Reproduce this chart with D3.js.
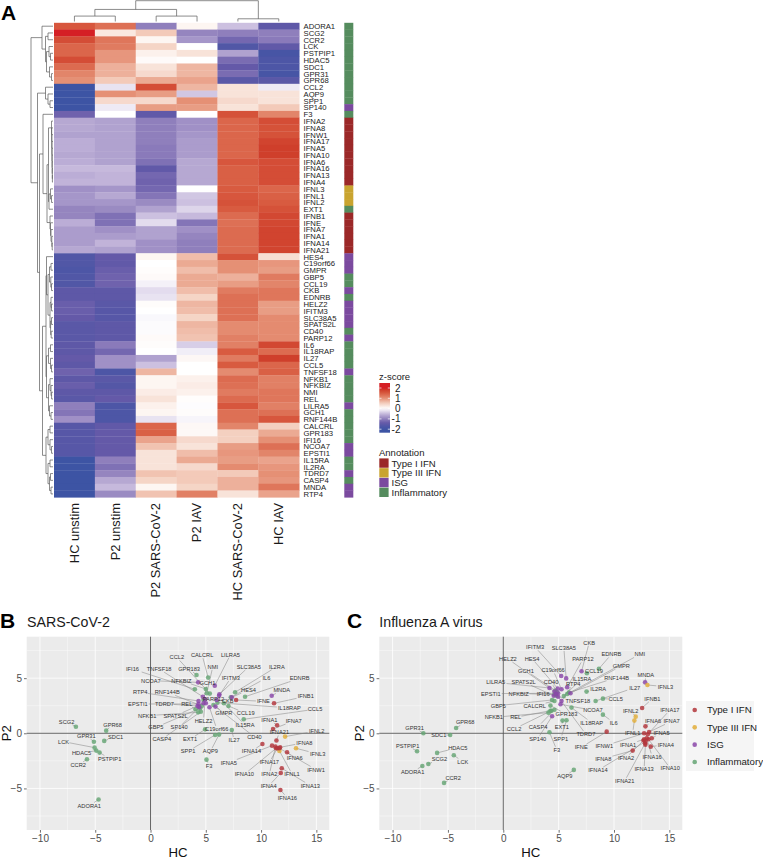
<!DOCTYPE html>
<html><head><meta charset="utf-8">
<script src="https://cdn.jsdelivr.net/npm/d3@7"></script>
<style>html,body{margin:0;padding:0;background:#fff;overflow:hidden}svg{display:block}text{font-family:"Liberation Sans",Arial,sans-serif}</style>
</head><body><div id="c"></div>
<script>
const genes=["ADORA1","SCG2","CCR2","LCK","PSTPIP1","HDAC5","SDC1","GPR31","GPR68","CCL2","AQP9","SPP1","SP140","F3","IFNA2","IFNA8","IFNW1","IFNA17","IFNA5","IFNA10","IFNA6","IFNA16","IFNA13","IFNA4","IFNL3","IFNL1","IFNL2","EXT1","IFNB1","IFNE","IFNA7","IFNA1","IFNA14","IFNA21","HES4","C19orf66","GMPR","GBP5","CCL19","CKB","EDNRB","HELZ2","IFITM3","SLC38A5","SPATS2L","CD40","PARP12","IL6","IL18RAP","IL27","CCL5","TNFSF18","NFKB1","NFKBIZ","NMI","REL","LILRA5","GCH1","RNF144B","CALCRL","GPR183","IFI16","NCOA7","EPSTI1","IL15RA","IL2RA","TDRD7","CASP4","MNDA","RTP4"];
const conditions=["HC unstim","P2 unstim","P2 SARS-CoV-2","P2 IAV","HC SARS-CoV-2","HC IAV"];
const annotationNames=["Type I IFN","Type III IFN","ISG","Inflammatory"];
// annotation index per gene: 0 Type I, 1 Type III, 2 ISG, 3 Inflammatory
const geneAnnotation=[3,3,3,3,3,3,3,3,3,3,3,3,2,3,0,0,0,0,0,0,0,0,0,0,1,1,1,3,0,0,0,0,0,0,2,2,2,3,3,2,3,2,2,2,2,3,2,3,3,3,3,2,3,3,3,3,2,3,3,3,3,3,2,2,3,3,2,3,2,2];
const zScores=[
[1.55,1.3,-1.0,0.1,-0.45,-1.5],[2.0,0.25,0.55,-0.95,-1.0,-1.0],[1.65,1.25,0.1,-0.8,-1.25,-1.05],[1.4,1.2,0.45,0,-1.7,-1.45],[1.4,0.95,0.15,0.3,-0.7,-1.85],[1.65,0.95,0.05,0,-1.2,-1.75],[1.35,0.75,0.3,0.7,-1.4,-1.75],[1.1,0.75,0.4,0.7,-1.2,-1.85],[1.0,0.55,0.8,0.85,-1.55,-1.55],[-2,-0.2,1.65,0.7,0.3,-0.15],[-2,1.0,0.9,-0.4,0.3,0.3],[-2,0.4,0.4,1.0,0.4,0.3],[-2,-0.15,0.9,0.9,0.3,0.55],[-1.3,0,-1.45,0,1.6,1.1],
[-0.65,-0.7,-1.0,-0.85,1.4,1.65],[-0.65,-0.7,-1,-0.85,1.4,1.6],[-0.7,-0.7,-1,-0.8,1.4,1.6],[-0.6,-0.7,-1,-0.75,1.4,1.75],[-.6,-.7,-1.05,-.75,1.4,1.8],[-.65,-.7,-1.05,-.75,1.4,1.8],[-.6,-.7,-1.15,-.65,1.55,1.65],[-.5,-.5,-1.45,-.65,1.45,1.65],[-.6,-.55,-1.25,-.65,1.45,1.65],[-.55,-.55,-1.3,-.65,1.45,1.65],[-.85,-.8,-1.25,0,1.5,1.4],[-.8,-.65,-1.1,-.4,1.55,1.45],[-.8,-.8,-.9,-.45,1.6,1.5],[-.95,-.9,-.7,-.3,1.5,1.6],[-.95,-1.15,-.45,-.5,1.35,1.7],[-.6,-1.15,-.25,-1.1,1.3,1.7],[-.75,-.85,-.7,-.85,1.35,1.75],[-.75,-.75,-.7,-.95,1.35,1.75],[-.75,-.55,-.85,-1.0,1.35,1.75],[-.65,-.7,-.85,-1.0,1.35,1.75],
[-1.7,-1.4,.1,.65,1.6,.35],[-1.7,-1.45,0,.8,1.0,.95],[-1.75,-1.35,.02,.65,1.0,.9],[-1.7,-1.3,.05,.8,.75,1.2],[-1.7,-1.3,-.1,.8,.9,1.1],[-1.5,-1.5,-.25,.65,1.2,1.25],[-1.5,-1.5,-.2,.45,1.3,1.25],[-1.35,-1.55,.03,.7,1.3,.9],[-1.35,-1.6,0,.65,1.3,.9],[-1.4,-1.6,-.05,.45,1.3,1.05],[-1.55,-1.5,-.03,.7,1.05,1.05],[-1.55,-1.5,-.03,.65,1.05,1.05],[-1.55,-1.5,.05,.6,1.15,1.05],[-1.5,-1.05,.03,-.35,1.15,1.7],[-1.5,-1.25,0,-.12,1.5,1.35],[-1.4,-.85,-.7,.08,1.2,1.8],[-1.5,-.85,-.45,0,1.5,1.4],[-1.3,-1.75,.7,0,1.05,1.45],[-1.5,-1.55,.1,.15,1.35,1.15],[-1.35,-1.65,.1,.2,1.3,1.15],[-1.5,-1.5,.2,.15,1.2,1.25],[-1.55,-1.4,.3,.02,1.35,1.25],[-1.0,-1.75,.15,-.02,1.55,1.15],[-1.1,-1.75,.1,.03,1.3,1.3],[-.85,-1.75,-.2,-.07,1.3,1.55],[-1.6,-1.45,1.4,.07,1.1,.5],[-1.6,-1.4,1.45,.07,.5,.8],[-1.6,-1.4,.85,.4,.5,1.0],[-1.6,-1.4,.6,.3,.9,1.3],[-1.6,-1.4,.3,.65,.95,1.1],[-2,-1.0,.3,.8,.9,.85],[-2,-1.15,.3,.4,1.05,.95],[-2,-.95,.6,.55,.55,1.0],[-2,-.65,.45,.55,.75,.95],[-2,-.5,.1,.45,.75,1.25],[-2,-.9,.6,1.15,.3,.85]];
// dendrograms: [height, childA, childB]; a number is a leaf index
const colTree=[1,[.58,[.26,0,1],[.26,2,3]],[.13,4,5]];
const typeOneA=[1.5,14,[1.3,15,[1.2,16,[1.1,17,[1,18,[.9,19,[.8,20,[.7,21,[.6,22,23]]]]]]]]];
const typeOneB=[3,28,[2.5,29,[2,30,[1.2,31,[.8,32,33]]]]];
const lateA=[6.5,34,[5,[3.5,[2,35,36],[2.2,37,[1.5,38,39]]],[3,[2,40,[1.5,41,42]],[2.4,[1.5,43,44],[1.8,45,46]]]]];
const lateB=[6.5,[4.5,[2.5,47,48],[2.5,49,[1.5,50,51]]],[4.5,[3,52,[2,53,[1.4,54,55]]],[3.5,56,[2,57,58]]]];
const lateC=[7,[5,[3,59,60],[3,61,[1.5,62,63]]],[5,[3,64,65],[3.5,[2.5,66,67],[2,68,69]]]];
const rowTree=[22,[11,0,[7.5,[5,1,2],[6.5,[4,3,[2.5,4,5]],[3.5,6,[1.5,7,8]]]]],[15.5,[7.5,9,[5,10,[3,11,12]]],[13.5,[10,13,[6,[4.5,typeOneA,[4,[2.5,24,[1.5,25,26]],27]],typeOneB]],[10.5,[7,lateA,lateB],lateC]]]];
const legendZ=[2,1,0,-1,-2];
const axisTicksX=[-10,-5,0,5,10,15];
const axisTicksY=[-5,0,5];
// panel B: SARS-CoV-2 (gene order)
const sarsHC=[-4.70,-6.75,-5.75,-5.06,-4.61,-4.91,-4.19,-5.12,-4.01,5.36,6.20,5.84,4.40,5.06,11.30,11.72,11.66,11.48,10.99,11.36,12.35,11.75,11.87,11.78,13.16,11.66,12.17,4.94,11.17,7.74,11.08,11.45,10.12,11.39,7.35,5.33,5.87,4.49,7.05,5.99,8.55,4.94,6.20,6.23,4.79,5.69,5.00,7.26,6.05,7.35,8.43,4.73,4.31,5.00,5.09,4.07,5.81,4.79,4.64,5.21,4.16,4.01,4.31,4.34,6.63,7.65,4.25,4.55,10.96,4.34];
const sarsP2=[-6.01,.60,-2.36,-1.30,-1.75,-1.57,-.69,-.76,.24,3.60,-.12,-.15,2.36,-2.39,-1.21,-1.27,-1.36,-1.36,-1.12,-1.36,-1.72,-5.14,-3.17,-3.60,-1.36,-1.60,-.30,.36,2.72,3.02,.39,.73,-.97,-.66,3.26,2.36,2.42,2.27,2.48,3.02,3.32,3.08,3.41,3.53,2.72,2.57,2.72,3.26,2.78,.30,1.27,3.32,1.90,4.02,3.63,2.18,4.32,3.02,2.48,5.05,5.29,3.99,4.62,2.66,2.72,3.72,2.48,1.96,3.41,2.93];
const sarsLabelHC=[-5.54,-7.59,-6.54,-7.86,-3.70,-6.23,-3.16,-5.81,-3.43,2.38,5.42,3.40,2.59,5.30,10.75,13.92,14.97,10.75,7.08,8.49,13.04,12.38,14.46,10.69,15.12,12.80,15.03,3.58,14.04,10.21,12.95,10.75,9.13,11.66,8.86,5.99,6.63,.48,8.61,6.99,13.49,4.79,7.26,8.89,2.26,9.40,5.69,10.48,12.56,7.56,14.88,.78,-.30,2.80,5.63,3.28,7.23,5.15,1.51,4.67,3.49,-1.63,.03,-1.14,8.55,11.42,1.27,1.02,11.87,-.93];
const sarsLabelP2=[-6.56,1.06,-2.87,-.76,-2.30,-1.81,-.30,-.24,.79,6.89,-1.63,-1.63,.54,-2.93,-3.72,-.85,-3.29,-2.63,-2.66,-3.72,-2.24,-5.86,-4.74,-4.77,-1.87,-3.69,.21,-.54,3.35,2.90,1.12,1.21,-1.63,.09,3.93,.39,1.87,.54,1.81,2.96,4.98,1.15,5.02,6.04,1.60,-.33,3.11,5.02,2.30,-.63,2.18,5.83,1.60,4.77,6.04,2.66,7.13,4.53,3.72,7.10,5.83,5.83,4.77,2.66,.76,6.04,2.66,-.54,3.90,3.72];
// panel C: Influenza A virus (gene order)
const iavHC=[-7.31,-6.77,-5.35,-4.47,-7.79,-5.98,-4.80,-7.22,-4.26,4.35,6.37,5.71,4.41,4.17,12.66,11.69,12.72,13.05,13.41,13.11,12.84,12.96,12.84,13.32,13.02,11.84,11.96,5.35,12.54,9.34,13.17,12.72,12.84,12.81,4.92,5.26,6.07,4.41,7.55,7.07,8.64,4.62,5.23,5.68,4.56,4.86,5.77,9.0,6.16,8.34,9.0,4.95,4.08,4.62,5.77,4.26,4.17,4.71,5.92,4.62,4.26,4.80,5.17,4.95,5.47,7.52,4.77,4.62,12.81,5.26];
const iavP2=[-2.96,-2.78,-4.50,-1.99,-1.63,-1.78,-.15,0,.48,2.05,-3.32,1.18,1.54,.09,-.66,-1.57,0,-.09,-.45,-.54,.63,-.45,-1.03,-1.21,4.38,1.15,1.51,1.15,2.30,.15,.12,-.54,-.76,-.91,4.05,3.99,3.63,3.02,5.44,5.62,5.86,3.78,5.20,4.98,3.41,3.72,4.17,1.69,2.33,2.93,3.14,3.32,1.87,3.53,3.56,2.05,4.11,3.87,3.69,2.93,2.51,3.41,2.63,3.63,3.38,3.78,3.56,2.14,4.62,2.93];
const iavLabelHC=[-8.19,-5.77,-4.53,-3.66,-8.64,-4.11,-5.83,-8.01,-3.44,.97,5.56,5.20,3.11,4.83,11.09,9.03,9.12,15.05,14.29,15.08,13.53,13.44,12.72,14.68,14.65,11.69,11.51,5.29,13.47,7.04,15.2,11.27,8.55,10.97,2.60,4.50,10.66,-.45,8.19,7.76,9.76,.42,2.87,5.47,1.84,4.32,7.19,9.97,7.98,11.87,10.15,6.74,-.85,1.39,12.33,1.12,-.69,2.05,10.24,2.84,5.71,3.60,8.10,-1.12,7.10,8.58,7.46,3.14,12.87,6.31];
const iavLabelP2=[-3.50,-2.36,-4.02,-2.57,-1.12,-1.30,-.18,.51,1.0,.39,-3.90,-.48,-.48,-1.51,-2.21,-2.30,-1.15,2.11,.03,-3.17,1.09,-2.11,-3.26,-1.03,4.23,.03,2.05,.60,3.14,-1.27,1.09,-1.03,-3.35,-4.32,6.77,5.71,6.10,2.51,5.68,8.22,7.16,6.74,7.82,7.76,4.65,4.65,6.71,.97,.97,4.14,3.08,2.96,1.45,3.60,7.16,1.45,4.62,5.68,5.05,2.51,1.72,3.56,2.08,3.60,4.95,3.99,-.09,.60,5.26,4.47];

const W=763,H=860;
const svg=d3.select("#c").append("svg").attr("width",W).attr("height",H).attr("viewBox",[0,0,W,H]);
const annotColors=["#9b2828","#c9a42f","#7b4a9f","#558c5e"];
const pointColors=["#b2353a","#e2ad38","#8a47a8","#65a574"];

// --- Heatmap ---
const x=d3.scaleBand().domain(d3.range(conditions.length)).range([54,299.2]);
const y=d3.scaleBand().domain(d3.range(genes.length)).range([22.8,497.3]);
const color=d3.scaleLinear().domain([-2,-1.4,-1,-.5,0,.5,1,1.5,1.8,2]).range(["#3d54a4","#6459a8","#8f7fbc","#c6b9dc","#ffffff","#f4d0c0","#e59075","#d85b40","#cf3f2b","#d51f25"]).clamp(true);
const hm=svg.append("g");
zScores.forEach((row,r)=>row.forEach((v,c)=>{
  hm.append("rect").attr("x",x(c)).attr("y",y(r)).attr("width",x.bandwidth()+.3).attr("height",y.bandwidth()+.3).attr("fill",color(v));
}));
const labelsG=svg.append("g").attr("font-size",7.7).attr("fill","#222");
genes.forEach((g,r)=>labelsG.append("text").attr("x",303.5).attr("y",y(r)+y.bandwidth()/2+2.9).text(g));
conditions.forEach((c,i)=>{
  svg.append("text").attr("transform",`translate(${x(i)+x.bandwidth()/2+4.2},503) rotate(-90)`).attr("text-anchor","end").attr("font-size",12.9).attr("fill","#1a1a1a").text(c);
});
genes.forEach((g,r)=>svg.append("rect").attr("x",344.3).attr("width",9).attr("y",y(r)).attr("height",y.bandwidth()+.3).attr("fill",annotColors[geneAnnotation[r]]));

// dendrograms
function dendro(node,leafPos,hPos,seg){
  if(typeof node==="number") return {p:leafPos(node),h:hPos(0)};
  const a=dendro(node[1],leafPos,hPos,seg), b=dendro(node[2],leafPos,hPos,seg), h=hPos(node[0]);
  seg.push([a.p,a.h,a.p,h],[b.p,b.h,b.p,h],[a.p,h,b.p,h]);
  return {p:(a.p+b.p)/2,h};
}
const colSeg=[];
const colH=d3.scaleLinear().domain([0,1]).range([21.5,.7]);
dendro(colTree,i=>x(i)+x.bandwidth()/2,colH,colSeg);
svg.append("g").attr("stroke","#5a5a5a").attr("stroke-width",.7).attr("fill","none").selectAll("line").data(colSeg).join("line")
  .attr("x1",d=>d[0]).attr("y1",d=>d[1]).attr("x2",d=>d[2]).attr("y2",d=>d[3]);
const rowSeg=[];
const rowH=d3.scaleLinear().domain([0,22]).range([53,31]);
dendro(rowTree,i=>y(i)+y.bandwidth()/2,rowH,rowSeg);
svg.append("g").attr("stroke","#5a5a5a").attr("stroke-width",.7).attr("fill","none").selectAll("line").data(rowSeg).join("line")
  .attr("x1",d=>d[1]).attr("y1",d=>d[0]).attr("x2",d=>d[3]).attr("y2",d=>d[2]);

// --- Heatmap legends ---
svg.append("text").attr("x",379).attr("y",379.5).attr("font-size",9.5).attr("fill","#222").text("z-score");
const legY=d3.scaleLinear().domain([2,-2]).range([388,429.2]);
const grad=svg.append("defs").append("linearGradient").attr("id","zg").attr("x1",0).attr("x2",0).attr("y1",0).attr("y2",1);
d3.range(0,1.001,.05).forEach(t=>{const v=legY.invert(383+t*49.7);grad.append("stop").attr("offset",t).attr("stop-color",color(v));});
svg.append("rect").attr("x",379.3).attr("y",383).attr("width",10.7).attr("height",49.7).attr("fill","url(#zg)");
legendZ.forEach(v=>{
  const yy=legY(v);
  svg.append("line").attr("x1",379.3).attr("x2",381.5).attr("y1",yy).attr("y2",yy).attr("stroke","#fff").attr("stroke-width",.7);
  svg.append("line").attr("x1",387.8).attr("x2",390).attr("y1",yy).attr("y2",yy).attr("stroke","#fff").attr("stroke-width",.7);
  svg.append("text").attr("x",400.5).attr("y",yy+3.5).attr("text-anchor","end").attr("font-size",10).attr("fill","#222").text(v);
});
svg.append("text").attr("x",379).attr("y",455.5).attr("font-size",9.5).attr("fill","#222").text("Annotation");
const swY=d3.scaleBand().domain(d3.range(4)).range([458.4,497.4]);
annotationNames.forEach((n,i)=>{
  svg.append("rect").attr("x",379.3).attr("y",swY(i)).attr("width",9.3).attr("height",swY.bandwidth()-.4).attr("fill",annotColors[i]);
  svg.append("text").attr("x",391.5).attr("y",swY(i)+8.2).attr("font-size",9.6).attr("fill","#222").text(n);
});

// --- Panels ---
function panel(opts){
  const g=svg.append("g");
  const sx=d3.scaleLinear().domain([-11.2,16.17]).range([opts.left,opts.right]);
  const sy=d3.scaleLinear().domain([-8.77,8.76]).range([830,636.7]);
  g.append("rect").attr("x",opts.left).attr("y",636.7).attr("width",opts.right-opts.left).attr("height",193.3).attr("fill","#EBEBEB");
  [-7.5,-2.5,2.5,7.5,12.5].forEach(v=>g.append("line").attr("x1",sx(v)).attr("x2",sx(v)).attr("y1",636.7).attr("y2",830).attr("stroke","#fff").attr("stroke-width",.4));
  [-7.5,-2.5,2.5,7.5].forEach(v=>g.append("line").attr("y1",sy(v)).attr("y2",sy(v)).attr("x1",opts.left).attr("x2",opts.right).attr("stroke","#fff").attr("stroke-width",.4));
  axisTicksX.forEach(v=>g.append("line").attr("x1",sx(v)).attr("x2",sx(v)).attr("y1",636.7).attr("y2",830).attr("stroke","#fff").attr("stroke-width",.8));
  axisTicksY.forEach(v=>g.append("line").attr("y1",sy(v)).attr("y2",sy(v)).attr("x1",opts.left).attr("x2",opts.right).attr("stroke","#fff").attr("stroke-width",.8));
  const ax=g.append("g").attr("transform","translate(0,830)").call(d3.axisBottom(sx).tickValues(axisTicksX).tickSize(2.7).tickPadding(2.5).tickFormat(d3.format("d")));
  const ay=g.append("g").attr("transform",`translate(${opts.left},0)`).call(d3.axisLeft(sy).tickValues(axisTicksY).tickSize(2.7).tickPadding(2).tickFormat(d3.format("d")));
  [ax,ay].forEach(a=>{a.select(".domain").remove();a.selectAll("line").attr("stroke","#333").attr("stroke-width",.7);a.selectAll("text").attr("fill","#4D4D4D").attr("font-size",10).attr("font-family","Liberation Sans");});
  g.append("line").attr("x1",sx(0)).attr("x2",sx(0)).attr("y1",636.7).attr("y2",830).attr("stroke","#555").attr("stroke-width",.9);
  g.append("line").attr("y1",sy(0)).attr("y2",sy(0)).attr("x1",opts.left).attr("x2",opts.right).attr("stroke","#555").attr("stroke-width",.9);
  const d=genes.map((name,i)=>({name,t:geneAnnotation[i],hc:opts.hc[i],p2:opts.p2[i],lx:opts.lx[i],ly:opts.ly[i]}));
  const fs=5.7, cw=fs*.6;
  d.forEach(p=>{
    const x0=sx(p.hc),y0=sy(p.p2),x1=sx(p.lx),y1=sy(p.ly);
    const hw=p.name.length*cw/2+.6,hh=fs/2+.3,dx=x0-x1,dy=y0-y1;
    const s=Math.min(dx?hw/Math.abs(dx):1e9,dy?hh/Math.abs(dy):1e9);
    if(s<1) g.append("line").attr("x1",x0).attr("y1",y0).attr("x2",x1+dx*s).attr("y2",y1+dy*s).attr("stroke","#808080").attr("stroke-width",.5);
  });
  g.selectAll("circle.pt").data([...d].sort((a,b)=>d3.ascending(b.t,a.t))).join("circle").attr("class","pt").attr("cx",p=>sx(p.hc)).attr("cy",p=>sy(p.p2)).attr("r",2.3).attr("fill",p=>pointColors[p.t]).attr("fill-opacity",.82);
  d.forEach(p=>g.append("text").attr("x",sx(p.lx)).attr("y",sy(p.ly)+2).attr("text-anchor","middle").attr("font-size",fs).attr("fill","#333").text(p.name));
  g.append("text").attr("x",opts.titleX).attr("y",627).attr("font-size",14.2).attr("fill","#1a1a1a").text(opts.title);
  g.append("text").attr("x",(opts.left+opts.right)/2).attr("y",857).attr("text-anchor","middle").attr("font-size",13.2).attr("fill","#111").text("HC");
  g.append("text").attr("transform",`translate(${opts.left-15.8},733.3) rotate(-90)`).attr("text-anchor","middle").attr("font-size",13.2).attr("fill","#111").text("P2");
}
panel({left:26.7,right:329.3,hc:sarsHC,p2:sarsP2,lx:sarsLabelHC,ly:sarsLabelP2,title:"SARS-CoV-2",titleX:27});
panel({left:379.3,right:682.3,hc:iavHC,p2:iavP2,lx:iavLabelHC,ly:iavLabelP2,title:"Influenza A virus",titleX:379.3});

// scatter legend
svg.append("rect").attr("x",686).attr("y",701).attr("width",68).attr("height",70).attr("fill","#f5f5f5");
const legKeyY=d3.scaleLinear().domain([0,3]).range([710,762]);
annotationNames.forEach((n,i)=>{
  svg.append("circle").attr("cx",694.7).attr("cy",legKeyY(i)).attr("r",2.3).attr("fill",pointColors[i]).attr("fill-opacity",.85);
  svg.append("text").attr("x",707).attr("y",legKeyY(i)+3.4).attr("font-size",9.7).attr("fill","#1a1a1a").text(n);
});

// panel letters
[["A",1,19.5],["B",0,628],["C",347,628]].forEach(([t,px,py])=>svg.append("text").attr("x",px).attr("y",py).attr("font-size",21).attr("font-weight","bold").attr("fill","#000").text(t));
</script></body></html>
